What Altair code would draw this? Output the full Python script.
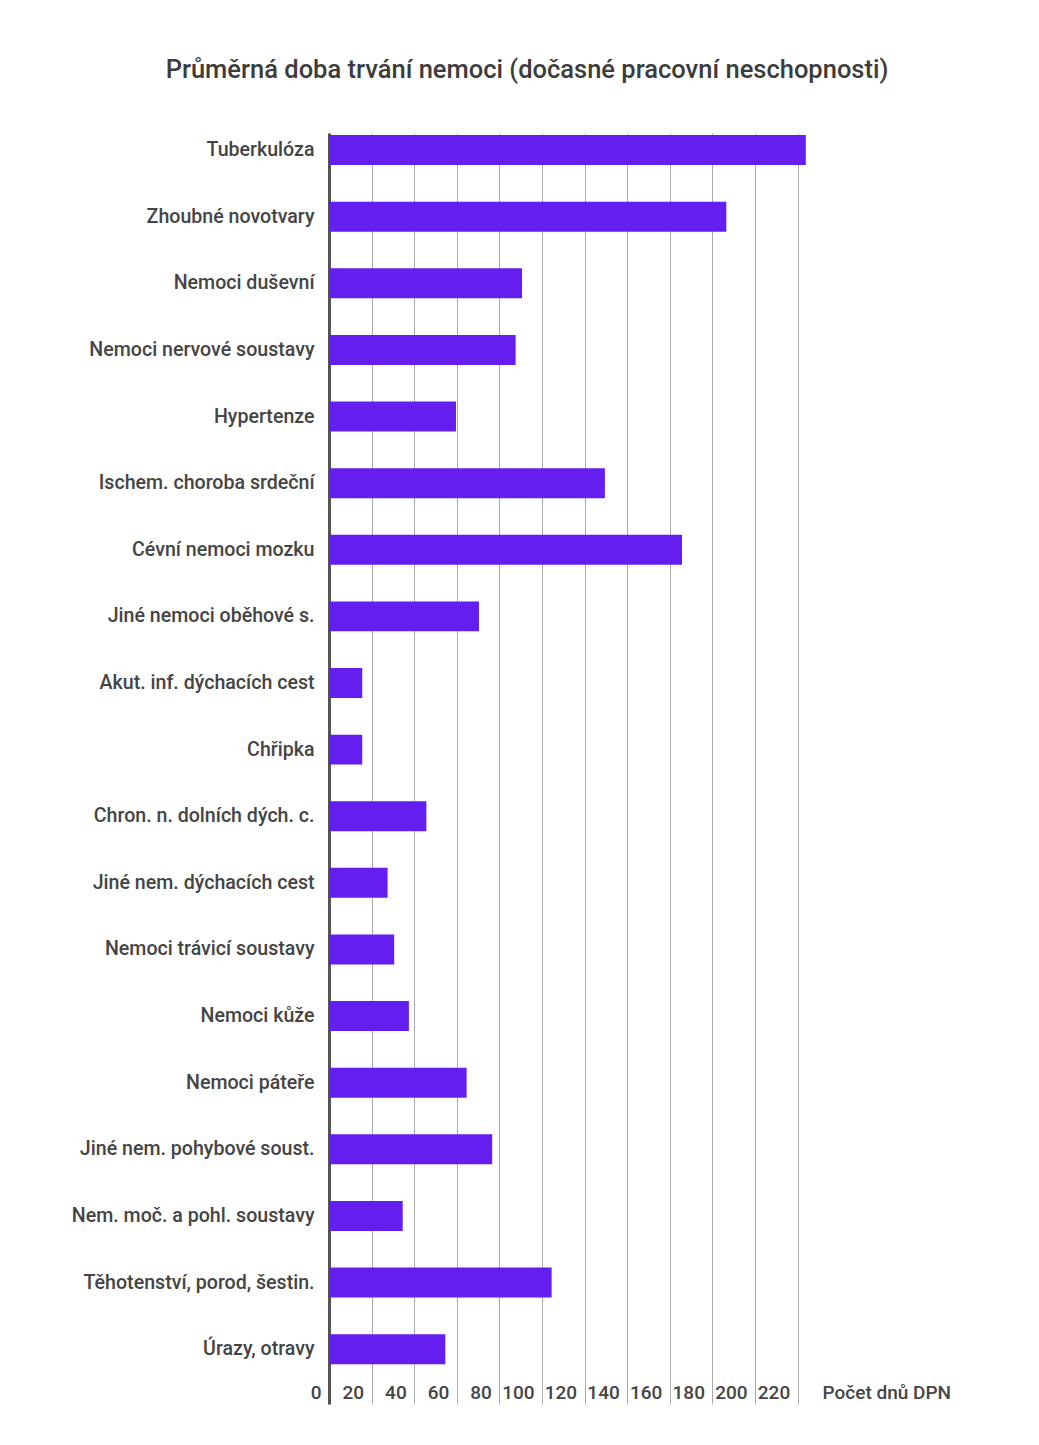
import altair as alt
import pandas as pd

categories = [
    "Tuberkulóza", "Zhoubné novotvary", "Nemoci duševní", "Nemoci nervové soustavy",
    "Hypertenze", "Ischem. choroba srdeční", "Cévní nemoci mozku", "Jiné nemoci oběhové s.",
    "Akut. inf. dýchacích cest", "Chřipka", "Chron. n. dolních dých. c.", "Jiné nem. dýchacích cest",
    "Nemoci trávicí soustavy", "Nemoci kůže", "Nemoci páteře", "Jiné nem. pohybové soust.",
    "Nem. moč. a pohl. soustavy", "Těhotenství, porod, šestin.", "Úrazy, otravy",
]
values = [223.8, 186.5, 90.6, 87.6, 59.6, 129.5, 165.7, 70.4, 15.6, 15.6,
          45.7, 27.5, 30.6, 37.5, 64.6, 76.6, 34.6, 104.5, 54.6]
tick_values = [0, 20, 40, 60, 80, 100, 120, 140, 160, 180, 200, 220]

df = pd.DataFrame({"kategorie": categories, "dny": values})

FONT = "Roboto"
TXT = "#444444"
W, H = 490, 1271

chart = alt.Chart(df).mark_bar(color="#641EEF").encode(
    x=alt.X(
        "dny:Q",
        scale=alt.Scale(domain=[0, 230], nice=False),
        axis=alt.Axis(
            values=tick_values,
            title="Počet dnů DPN",
            titleX=W + 3,
            titleY=-12,
            titleAlign="left",
            titleBaseline="middle",
            titleAngle=0,
            titleFont=FONT,
            titleFontSize=19,
            titleFontWeight=500,
            titleColor=TXT,
            labelFont=FONT,
            labelFontSize=19,
            labelFontWeight=500,
            labelColor=TXT,
            labelAlign="right",
            labelBaseline="middle",
            labelOffset=-8,
            labelPadding=-12,
            ticks=False,
            domain=False,
            grid=True,
            gridColor="#ababab",
            gridWidth=1,
            labelFlush=False,
            labelOverlap=False,
        ),
    ),
    y=alt.Y(
        "kategorie:N",
        sort=categories,
        scale=alt.Scale(paddingInner=0.55, paddingOuter=0.315, align=0.05),
        axis=alt.Axis(
            title=None,
            labelFont=FONT,
            labelFontSize=19.6,
            labelFontWeight=500,
            labelColor=TXT,
            labelPadding=15,
            ticks=False,
            domain=True,
            domainColor="#555555",
            domainWidth=3,
            grid=False,
            labelLimit=400,
        ),
    ),
).properties(
    width=W,
    height=H,
    padding={"left": 63, "top": 49, "right": 20, "bottom": 20},
    title=alt.TitleParams(
        "Průměrná doba trvání nemoci (dočasné pracovní neschopnosti)",
        font=FONT,
        fontSize=25.5,
        fontWeight=500,
        color="#3c3c3c",
        anchor="middle",
        dx=-47,
        offset=50,
    ),
).configure_view(stroke=None)

chart.save("out.html", embed_options={"renderer": "svg", "actions": False})
